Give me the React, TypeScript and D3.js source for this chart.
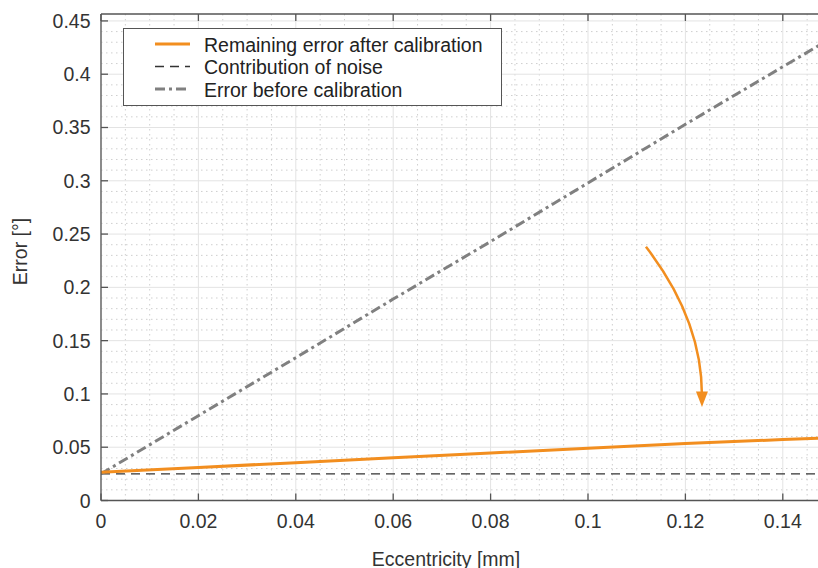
import React from "react";
import * as d3 from "d3";

const eccentricity = [0, 0.02, 0.04, 0.06, 0.08, 0.1, 0.12, 0.14, 0.15];
const remainingError = [0.0265, 0.031, 0.0355, 0.04, 0.0445, 0.049, 0.0535, 0.0572, 0.059];
const noiseError = [0.025, 0.025, 0.025, 0.025, 0.025, 0.025, 0.025, 0.025, 0.025];
const beforeError = [0.025, 0.0796, 0.134, 0.189, 0.243, 0.298, 0.353, 0.407, 0.434];

const xTicks = [0, 0.02, 0.04, 0.06, 0.08, 0.1, 0.12, 0.14];
const yTicks = [0, 0.05, 0.1, 0.15, 0.2, 0.25, 0.3, 0.35, 0.4, 0.45];
const legendLabels = ["Remaining error after calibration", "Contribution of noise", "Error before calibration"];
const arrowX = [0.1119, 0.1234, 0.1234];
const arrowY = [0.238, 0.17, 0.0985];

const W = 818, H = 568;
const left = 101, top = 14, bottom = 500.5;

export default function App() {
  const x = d3.scaleLinear().domain([0, 0.15]).range([left, left + 0.15 / 0.02 * 97.4]);
  const y = d3.scaleLinear().domain([0, 0.4565]).range([bottom, top]);
  const right = x(0.15);
  const mk = (arr: number[]) => d3.line<number>().x((_, i) => x(eccentricity[i])).y((v) => y(v))(arr) || "";

  const minorX = d3.range(0, 0.1501, 0.005).filter((v) => Math.abs(v / 0.02 - Math.round(v / 0.02)) > 1e-6);
  const minorY = d3.range(0, 0.4565, 0.01).filter((v) => Math.abs(v / 0.05 - Math.round(v / 0.05)) > 1e-6);

  const ax = arrowX.map((v) => x(v));
  const ay = arrowY.map((v) => y(v));
  const arrowPath = `M${ax[0]},${ay[0]} Q${ax[1]},${ay[1]} ${ax[2]},${ay[2]}`;
  const tipY = y(0.0878);

  const orange = "#f28e1f";
  const font = "Liberation Sans, Arial, sans-serif";
  const fs = 19.5;

  return (
    <svg width={W} height={H} style={{ position: "absolute", left: 0, top: 0, background: "#fff" }} fontFamily={font}>
      <defs>
        <clipPath id="plot">
          <rect x={left} y={top} width={right - left} height={bottom - top} />
        </clipPath>
      </defs>
      {minorX.map((v) => (
        <line key={"mx" + v} x1={x(v)} x2={x(v)} y1={top} y2={bottom} stroke="#cfcfcf" strokeWidth={1} strokeDasharray="1.5,3.5" />
      ))}
      {minorY.map((v) => (
        <line key={"my" + v} x1={left} x2={right} y1={y(v)} y2={y(v)} stroke="#cfcfcf" strokeWidth={1} strokeDasharray="1.5,3.5" />
      ))}
      {xTicks.map((v) => (
        <line key={"gx" + v} x1={x(v)} x2={x(v)} y1={top} y2={bottom} stroke="#e3e3e3" strokeWidth={1} />
      ))}
      {yTicks.map((v) => (
        <line key={"gy" + v} x1={left} x2={right} y1={y(v)} y2={y(v)} stroke="#e3e3e3" strokeWidth={1} />
      ))}
      <g clipPath="url(#plot)">
        <path d={mk(noiseError)} fill="none" stroke="#333" strokeWidth={1.3} strokeDasharray="9,6" />
        <path d={mk(beforeError)} fill="none" stroke="#808080" strokeWidth={3} strokeDasharray="10,4,3,4" />
        <path d={mk(remainingError)} fill="none" stroke={orange} strokeWidth={3} />
      </g>
      <line x1={left} x2={left} y1={top} y2={bottom} stroke="#555" strokeWidth={1.3} />
      <line x1={left} x2={right} y1={bottom} y2={bottom} stroke="#555" strokeWidth={1.3} />
      <line x1={left} x2={right} y1={top} y2={top} stroke="#555" strokeWidth={1.3} />
      {xTicks.map((v) => (
        <g key={"tx" + v}>
          <line x1={x(v)} x2={x(v)} y1={bottom} y2={bottom - 7} stroke="#555" strokeWidth={1.3} />
          <line x1={x(v)} x2={x(v)} y1={top} y2={top + 7} stroke="#555" strokeWidth={1.3} />
          <text x={x(v)} y={bottom + 27.5} fontSize={fs} fill="#333" textAnchor="middle">{String(v)}</text>
        </g>
      ))}
      {yTicks.map((v) => (
        <g key={"ty" + v}>
          <line x1={left} x2={left + 7} y1={y(v)} y2={y(v)} stroke="#555" strokeWidth={1.3} />
          <text x={left - 10.5} y={y(v) + 7} fontSize={fs} fill="#333" textAnchor="end">{String(v)}</text>
        </g>
      ))}
      <text x={446} y={566} fontSize={fs} fill="#333" textAnchor="middle">Eccentricity [mm]</text>
      <text transform={`translate(27,${251.5}) rotate(-90)`} fontSize={fs} fill="#333" textAnchor="middle">Error [°]</text>
      <path d={arrowPath} fill="none" stroke={orange} strokeWidth={2.5} />
      <path d={`M${ax[2] - 6},${ay[2] - 4} L${ax[2] + 6},${ay[2] - 4} L${ax[2]},${tipY} Z`} fill={orange} />
      <rect x={123.5} y={28.5} width={378} height={77} fill="#fff" stroke="#555" strokeWidth={1} />
      {legendLabels.map((t, i) => (
        <g key={t}>
          <line x1={155} x2={190} y1={44 + i * 22.5} y2={44 + i * 22.5}
            stroke={i === 0 ? orange : i === 1 ? "#333" : "#808080"}
            strokeWidth={i === 1 ? 1.3 : 3}
            strokeDasharray={i === 0 ? undefined : i === 1 ? "9,6" : "10,4,3,4"} />
          <text x={204} y={51.5 + i * 22.5} fontSize={fs} fill="#222">{t}</text>
        </g>
      ))}
    </svg>
  );
}
